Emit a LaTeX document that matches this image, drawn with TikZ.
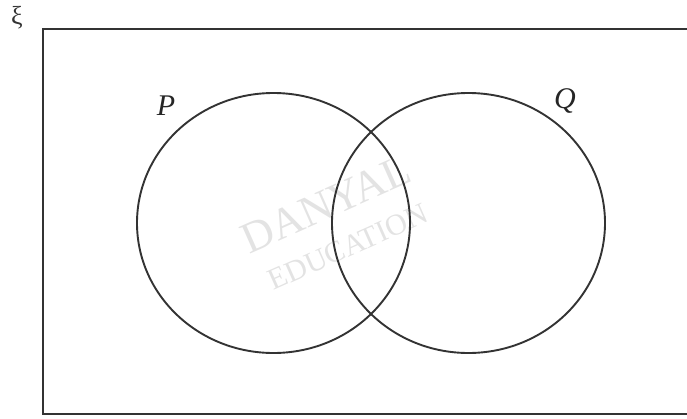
\documentclass[tikz,border=0pt]{standalone}
\usepackage{fontspec}
\setmainfont{Liberation Serif}
\usetikzlibrary{shapes.geometric}
\begin{document}
\begin{tikzpicture}[x=1pt,y=-1pt,
  outline/.style={draw=black!80,line width=1.9pt},
  setlabel/.style={font=\fontsize{30}{32}\selectfont\itshape,text=black!85},
  wm/.style={text=black!11,rotate=24,inner sep=0pt}]
\useasboundingbox (0,0) rectangle (687,418);
\begin{scope}
\clip (0,0) rectangle (687,418);
\draw[outline] (43,29) rectangle (700,414);
\end{scope}
\node[font=\fontsize{26}{28}\selectfont,text=black!80] (xi) at (17,18) {ξ};
\node[wm,font=\fontsize{44}{46}\selectfont] (w1) at (326,204) {DANYAL};
\node[wm,font=\fontsize{30}{32}\selectfont] (w2) at (348,247) {EDUCATION};
\node[outline,ellipse,minimum width=273pt,minimum height=260pt,inner sep=0pt] (P) at (273.5,223) {};
\node[outline,ellipse,minimum width=273pt,minimum height=260pt,inner sep=0pt] (Q) at (468.5,223) {};
\node[setlabel] (lp) at (166,106) {P};
\node[setlabel] (lq) at (565,101) {Q};
\end{tikzpicture}
\end{document}
